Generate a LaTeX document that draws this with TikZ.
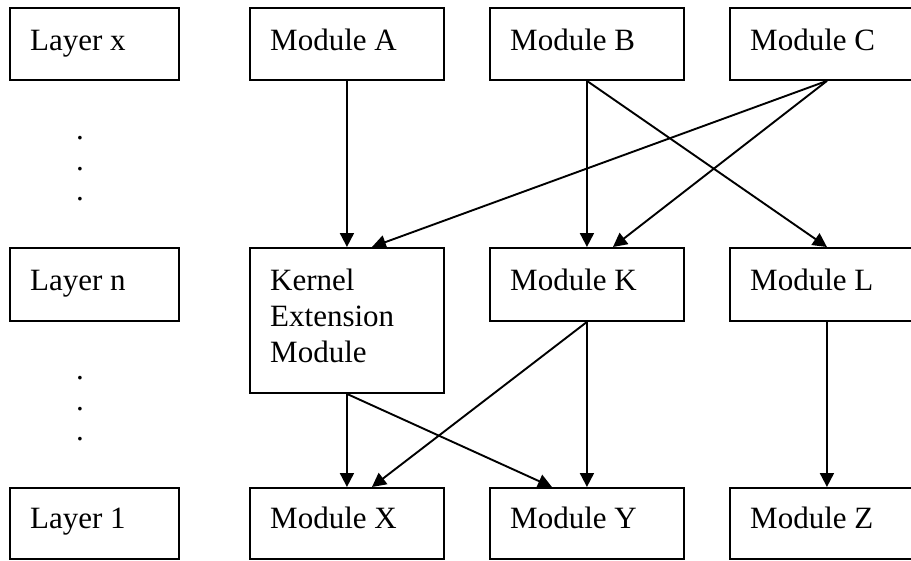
\documentclass[tikz,border=0pt]{standalone}
\usepackage{fontspec}
\setmainfont{Liberation Serif}
\usetikzlibrary{arrows.meta}
\begin{document}
\begin{tikzpicture}[x=1pt,y=-1pt,
  box/.style={draw,line width=1.9pt,rectangle,inner sep=0pt,anchor=north west},
  colbox/.style={box,minimum width=194pt},
  laybox/.style={box,minimum width=169pt},
  lbl/.style={inner sep=0pt,anchor=base west,font=\fontsize{31}{36}\selectfont},
  dotlbl/.style={inner sep=0pt,anchor=base,font=\fontsize{31}{36}\selectfont},
  conn/.style={line width=1.9pt,-{Triangle[width=14pt,length=14pt]}}]
\useasboundingbox (0,0) rectangle (911,560);
\clip (0,0) rectangle (911,560);
% top row
\node[laybox,minimum height=72pt] (lx) at (9,7) {};
\node[colbox,minimum height=72pt] (ma) at (249,7) {};
\node[colbox,minimum height=72pt] (mb) at (489,7) {};
\node[colbox,minimum height=72pt] (mc) at (729,7) {};
% middle row
\node[laybox,minimum height=73pt] (ln) at (9,247) {};
\node[colbox,minimum height=145pt] (ker) at (249,247) {};
\node[colbox,minimum height=73pt] (mk) at (489,247) {};
\node[colbox,minimum height=73pt] (ml) at (729,247) {};
% bottom row
\node[laybox,minimum height=71pt] (l1) at (9,487) {};
\node[colbox,minimum height=71pt] (mx) at (249,487) {};
\node[colbox,minimum height=71pt] (my) at (489,487) {};
\node[colbox,minimum height=71pt] (mz) at (729,487) {};
% labels
\node[lbl] (tlx) at ([shift={(21pt,-43pt)}]lx.north west) {Layer x};
\node[lbl] (tma) at ([shift={(21pt,-43pt)}]ma.north west) {Module A};
\node[lbl] (tmb) at ([shift={(21pt,-43pt)}]mb.north west) {Module B};
\node[lbl] (tmc) at ([shift={(21pt,-43pt)}]mc.north west) {Module C};
\node[lbl] (tln) at ([shift={(21pt,-43pt)}]ln.north west) {Layer n};
\node[inner sep=0pt,anchor=north west,align=left,font=\fontsize{31}{36}\selectfont] (tker) at ([shift={(21pt,-22pt)}]ker.north west) {Kernel\\Extension\\Module};
\node[lbl] (tmk) at ([shift={(21pt,-43pt)}]mk.north west) {Module K};
\node[lbl] (tml) at ([shift={(21pt,-43pt)}]ml.north west) {Module L};
\node[lbl] (tl1) at ([shift={(21pt,-41pt)}]l1.north west) {Layer 1};
\node[lbl] (tmx) at ([shift={(21pt,-41pt)}]mx.north west) {Module X};
\node[lbl] (tmy) at ([shift={(21pt,-41pt)}]my.north west) {Module Y};
\node[lbl] (tmz) at ([shift={(21pt,-41pt)}]mz.north west) {Module Z};
% dots
\node[dotlbl] (d1) at (80,139) {.};
\node[dotlbl] (d2) at (80,170) {.};
\node[dotlbl] (d3) at (80,200) {.};
\node[dotlbl] (d4) at (80,379) {.};
\node[dotlbl] (d5) at (80,410) {.};
\node[dotlbl] (d6) at (80,440) {.};
% connectors
\draw[conn] (ma.south) -- (ker.north);
\draw[conn] (mc.south) -- ([xshift=25pt]ker.north);
\draw[conn] (mb.south) -- (mk.north);
\draw[conn] (mc.south) -- ([xshift=26pt]mk.north);
\draw[conn] (mb.south) -- (ml.north);
\draw[conn] (ker.south) -- (mx.north);
\draw[conn] (ker.south) -- ([xshift=-35pt]my.north);
\draw[conn] (mk.south) -- ([xshift=25pt]mx.north);
\draw[conn] (mk.south) -- (my.north);
\draw[conn] (ml.south) -- (mz.north);
\end{tikzpicture}
\end{document}
